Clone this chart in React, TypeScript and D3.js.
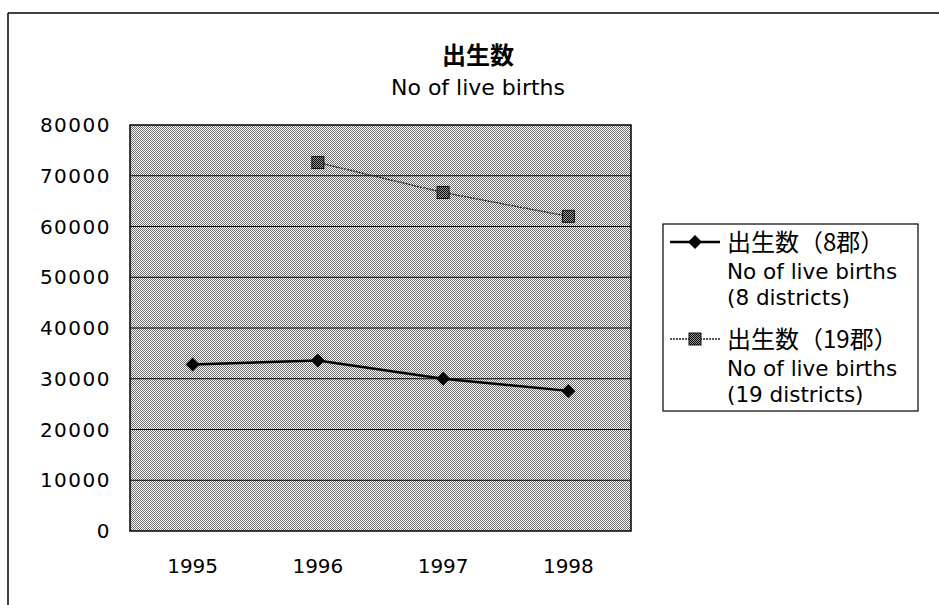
import React from "react";
import * as d3 from "d3";

const years = ["1995", "1996", "1997", "1998"];
const births8 = [32800, 33600, 30000, 27600];
const births19: (number | null)[] = [null, 72600, 66700, 62000];
const yTicks = [0, 10000, 20000, 30000, 40000, 50000, 60000, 70000, 80000];
const titleJa = "出生数";
const titleEn = "No of live births";
const legend1 = ["出生数（8郡）", "No of live births", "(8 districts)"];
const legend2 = ["出生数（19郡）", "No of live births", "(19 districts)"];

const W = 939, H = 605;
const plot = { left: 130, right: 631, top: 125, bottom: 531 };
const FONT = "'DejaVu Sans', 'Noto Sans CJK JP', sans-serif";
const CJK = "'Noto Sans CJK JP', sans-serif";

export default function App() {
  const x = d3.scaleBand<string>().domain(years).range([plot.left, plot.right]);
  const y = d3.scaleLinear().domain([0, 80000]).range([plot.bottom, plot.top]);
  const cx = (d: string) => (x(d) as number) + x.bandwidth() / 2;

  const line = d3
    .line<number | null>()
    .defined((d) => d != null)
    .x((_, i) => cx(years[i]))
    .y((d) => y(d as number));

  const diamond = (px: number, py: number, r = 6) =>
    `M${px},${py - r}L${px + r},${py}L${px},${py + r}L${px - r},${py}Z`;

  const legX0 = 670, legX1 = 720, legText = 727;
  const leg1Y = 242, leg2Y = 339, lineGap = 26;

  return (
    <svg width={W} height={H} style={{ position: "absolute", left: 0, top: 0, background: "#fff" }}>
      <defs>
        <pattern id="dither" width="2" height="2" patternUnits="userSpaceOnUse">
          <rect x="0" y="0" width="2" height="2" fill="#ffffff" />
          <rect x="0" y="0" width="1" height="1" fill="#6e6e6e" />
          <rect x="1" y="1" width="1" height="1" fill="#6e6e6e" />
        </pattern>
        <pattern id="markpat" width="2" height="2" patternUnits="userSpaceOnUse">
          <rect x="0" y="0" width="2" height="2" fill="#999" />
          <rect x="0" y="0" width="1" height="1" fill="#000" />
          <rect x="1" y="1" width="1" height="1" fill="#000" />
        </pattern>
      </defs>
      {/* outer frame */}
      <line x1={8} y1={13} x2={W} y2={13} stroke="#000" strokeWidth={1.5} />
      <line x1={8} y1={13} x2={8} y2={H} stroke="#000" strokeWidth={1.5} />

      {/* titles */}
      <text x={478} y={64} textAnchor="middle" fontFamily={CJK} fontWeight="bold" fontSize={24}>
        {titleJa}
      </text>
      <text x={478} y={95} textAnchor="middle" fontFamily={FONT} fontSize={22}>
        {titleEn}
      </text>

      {/* plot area */}
      <rect
        x={plot.left}
        y={plot.top}
        width={plot.right - plot.left}
        height={plot.bottom - plot.top}
        fill="url(#dither)"
        shapeRendering="crispEdges"
      />
      {yTicks.slice(1, -1).map((t) => (
        <line key={t} x1={plot.left} x2={plot.right} y1={y(t)} y2={y(t)} stroke="#000" strokeWidth={1.2} />
      ))}
      <rect
        x={plot.left}
        y={plot.top}
        width={plot.right - plot.left}
        height={plot.bottom - plot.top}
        fill="none"
        stroke="#000"
        strokeWidth={1.5}
      />

      {/* y axis labels */}
      {yTicks.map((t) => (
        <text key={t} x={111} y={y(t) + 7} textAnchor="end" fontFamily={FONT} fontSize={20} letterSpacing={1.5}>
          {t}
        </text>
      ))}
      {/* x labels */}
      {years.map((yr) => (
        <text key={yr} x={cx(yr)} y={573} textAnchor="middle" fontFamily={FONT} fontSize={20}>
          {yr}
        </text>
      ))}

      {/* series 19 districts */}
      <path d={line(births19) || ""} fill="none" stroke="#222" strokeWidth={1.4} strokeDasharray="2,1" />
      {births19.map((v, i) =>
        v == null ? null : (
          <rect key={i} x={cx(years[i]) - 6} y={y(v) - 6} width={12} height={12} fill="url(#markpat)" stroke="#111" strokeWidth={1} />
        )
      )}

      {/* series 8 districts */}
      <path d={line(births8) || ""} fill="none" stroke="#000" strokeWidth={2.4} />
      {births8.map((v, i) => (
        <path key={i} d={diamond(cx(years[i]), y(v), 7)} fill="#000" />
      ))}

      {/* legend */}
      <rect x={663} y={224} width={255} height={187} fill="#fff" stroke="#000" strokeWidth={1.2} />
      <line x1={legX0} x2={legX1} y1={leg1Y} y2={leg1Y} stroke="#000" strokeWidth={2.4} />
      <path d={diamond((legX0 + legX1) / 2, leg1Y, 7)} fill="#000" />
      <text fontFamily={FONT} fontSize={21.5}>
        <tspan x={legText} y={leg1Y + 9} fontFamily={CJK} fontSize={24}>{legend1[0]}</tspan>
        <tspan x={legText} y={leg1Y + 8 + lineGap + 3}>{legend1[1]}</tspan>
        <tspan x={legText} y={leg1Y + 8 + lineGap * 2 + 3}>{legend1[2]}</tspan>
      </text>
      <line x1={legX0} x2={legX1} y1={leg2Y} y2={leg2Y} stroke="#222" strokeWidth={1.4} strokeDasharray="2,1" />
      <rect x={(legX0 + legX1) / 2 - 6} y={leg2Y - 6} width={12} height={12} fill="url(#markpat)" stroke="#111" strokeWidth={1} />
      <text fontFamily={FONT} fontSize={21.5}>
        <tspan x={legText} y={leg2Y + 9} fontFamily={CJK} fontSize={24}>{legend2[0]}</tspan>
        <tspan x={legText} y={leg2Y + 8 + lineGap + 3}>{legend2[1]}</tspan>
        <tspan x={legText} y={leg2Y + 8 + lineGap * 2 + 3}>{legend2[2]}</tspan>
      </text>
    </svg>
  );
}
